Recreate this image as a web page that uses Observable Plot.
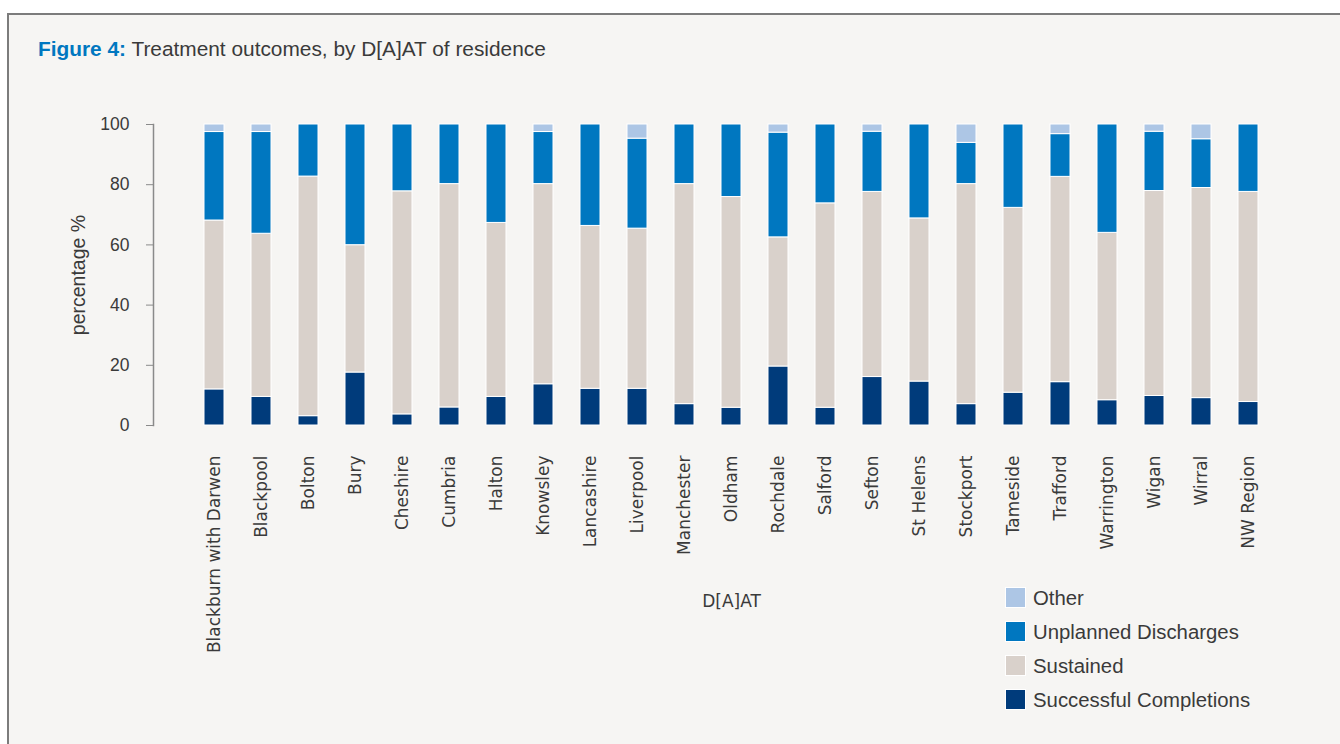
<!DOCTYPE html>
<html>
<head>
<meta charset="utf-8">
<script src="https://cdn.jsdelivr.net/npm/d3@7"></script>
<script src="https://cdn.jsdelivr.net/npm/@observablehq/plot@0.6"></script>
<style>
  html, body { margin: 0; padding: 0; background: #ffffff; }
  #page { position: relative; width: 1340px; height: 744px; overflow: hidden; }
  #panel {
    position: absolute; left: 7px; top: 13px; width: 1400px; height: 800px;
    background: #f6f5f3; border-left: 2px solid #7c7c7c; border-top: 2px solid #7c7c7c;
  }
  #title {
    position: absolute; left: 38px; top: 37px; font-family: "Liberation Sans", Arial, sans-serif;
    font-size: 20.85px; color: #3a3a3a; white-space: nowrap;
  }
  #title b { color: #0077c0; }
  #chart { position: absolute; left: 0; top: 0; }
  #legend {
    position: absolute; left: 1006px; top: 587px; font-family: "Liberation Sans", Arial, sans-serif;
    font-size: 20.35px; color: #3a3a3a;
  }
  .row { display: flex; align-items: center; height: 20px; margin-bottom: 14px; white-space: nowrap; }
  .sw { width: 19px; height: 19px; margin-right: 8px; box-shadow: 0 0 0 1px #ffffff; }
  .row span:last-child { position: relative; top: 1px; }
</style>
</head>
<body>
<div id="page">
  <div id="panel"></div>
  <div id="title"><b>Figure 4:</b> Treatment outcomes, by D[A]AT of residence</div>
  <div id="chart"></div>
  <div id="legend"></div>
</div>
<script>
// D[A]AT areas, left to right
const areas = [
  "Blackburn with Darwen", "Blackpool", "Bolton", "Bury", "Cheshire", "Cumbria",
  "Halton", "Knowsley", "Lancashire", "Liverpool", "Manchester", "Oldham",
  "Rochdale", "Salford", "Sefton", "St Helens", "Stockport", "Tameside",
  "Trafford", "Warrington", "Wigan", "Wirral", "NW Region"
];

// Share of treatment outcomes (%) per area
const successful = [12.0, 9.5, 3.1, 17.6, 3.7, 6.0, 9.5, 13.7, 12.2, 12.2, 7.1, 5.9, 19.6, 5.9, 16.1, 14.6, 7.1, 10.9, 14.4, 8.4, 9.8, 9.1, 7.8];
const sustained  = [56.1, 54.2, 79.6, 42.3, 74.1, 74.2, 57.8, 66.5, 54.1, 53.2, 73.1, 70.0, 42.9, 67.9, 61.5, 54.2, 73.1, 61.4, 68.2, 55.6, 68.1, 69.8, 69.8];
const unplanned  = [29.4, 33.8, 17.3, 40.1, 22.2, 19.8, 32.7, 17.3, 33.7, 29.9, 19.8, 24.1, 34.8, 26.2, 20.0, 31.2, 13.7, 27.7, 14.2, 36.0, 19.7, 16.2, 22.4];
const other      = [2.5, 2.5, 0, 0, 0, 0, 0, 2.5, 0, 4.7, 0, 0, 2.7, 0, 2.4, 0, 6.1, 0, 3.2, 0, 2.4, 4.9, 0];

// Outcome categories, stacked bottom to top
const outcomes = ["Successful Completions", "Sustained", "Unplanned Discharges", "Other"];
const outcomeColors = ["#003b7b", "#d9d1cb", "#0077c0", "#adc6e5"];
const yTicks = [0, 20, 40, 60, 80, 100];

const series = [successful, sustained, unplanned, other];
const rows = [];
areas.forEach((area, i) => {
  outcomes.forEach((outcome, k) => {
    rows.push({area, outcome, value: series[k][i]});
  });
});

const chart = Plot.plot({
  width: 1340,
  height: 744,
  marginTop: 124,
  marginBottom: 319,
  marginLeft: 153,
  marginRight: 31,
  style: {background: "transparent", color: "#3a3a3a", fontFamily: "'Liberation Sans', Arial, sans-serif"},
  x: {type: "band", domain: areas, paddingInner: 0.57, paddingOuter: 0.93, align: 0.5},
  y: {domain: [0, 100]},
  color: {domain: outcomes, range: outcomeColors},
  marks: [
    Plot.barY(rows, {
      x: "area", y: "value", fill: "outcome", order: outcomes,
      stroke: "#ffffff", strokeWidth: 1
    }),
    Plot.frame({anchor: "left", stroke: "#8a8a8a", strokeWidth: 1.5}),
    Plot.axisY({
      ticks: yTicks, tickSize: 7, tickPadding: 17, stroke: "#8a8a8a",
      fontSize: 17.5, label: null
    }),
    // rotated y-axis title, centred on the frame's height
    Plot.text(["percentage %"], {
      frameAnchor: "left", textAnchor: "middle", rotate: -90, dx: -75, fontSize: 19.5
    }),
    Plot.axisX({
      tickSize: 0, tickPadding: 30, tickRotate: -90,
      fontSize: 17, fontFamily: "'DejaVu Sans', sans-serif",
      label: "D[A]AT", labelAnchor: "center", labelArrow: "none", labelOffset: 181
    })
  ]
});
document.getElementById("chart").appendChild(chart);

// Legend, top entry first
const legend = document.getElementById("legend");
[...outcomes].reverse().forEach((outcome) => {
  const k = outcomes.indexOf(outcome);
  const row = document.createElement("div");
  row.className = "row";
  const sw = document.createElement("span");
  sw.className = "sw";
  sw.style.background = outcomeColors[k];
  const label = document.createElement("span");
  label.textContent = outcome;
  row.appendChild(sw);
  row.appendChild(label);
  legend.appendChild(row);
});
</script>
</body>
</html>
